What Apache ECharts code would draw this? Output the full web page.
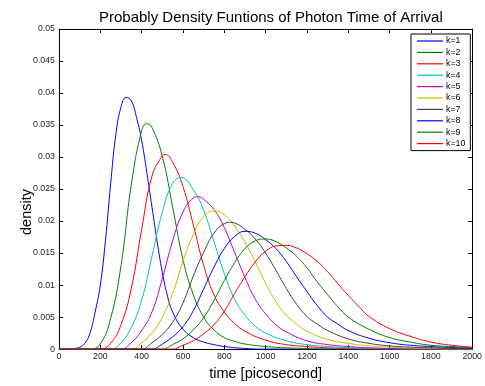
<!DOCTYPE html>
<html>
<head>
<meta charset="utf-8">
<script src="https://cdn.jsdelivr.net/npm/echarts@6/dist/echarts.min.js"></script>
<style>
html,body{margin:0;padding:0;background:#fff;}
#chart{width:485px;height:386px;}
</style>
</head>
<body>
<div id="chart"></div>
<script>
// ---- data (time in picoseconds, density) ----
var seriesNames = ['k=1','k=2','k=3','k=4','k=5','k=6','k=7','k=8','k=9','k=10'];
var xTicks = [0,200,400,600,800,1000,1200,1400,1600,1800,2000];
var yTicks = [0,0.005,0.01,0.015,0.02,0.025,0.03,0.035,0.04,0.045,0.05];

var k1 = [[0,0],[50,0],[75,0.0001],[100,0.0003],[125,0.0009],[150,0.0025],[175,0.0058],[200,0.0100],[225,0.0170],[250,0.0258],[275,0.0335],[300,0.0378],[325,0.0393],[350,0.0388],[375,0.0362],[400,0.0326],[425,0.0276],[450,0.0222],[475,0.0168],[500,0.0120],[525,0.0083],[550,0.0058],[600,0.0031],[650,0.0018],[700,0.0011],[750,0.0007],[800,0.0004],[900,0.0001],[1000,0],[2000,0]];
var k2 = [[0,0],[150,0],[200,0.0008],[250,0.0048],[300,0.0130],[350,0.0257],[400,0.0341],[425,0.0352],[450,0.0346],[500,0.0301],[550,0.0222],[600,0.0140],[650,0.0085],[700,0.0050],[750,0.0030],[800,0.0018],[850,0.0012],[900,0.0008],[1000,0.0004],[1100,0.0002],[1200,0.0001],[1300,0],[2000,0]];
var k3 = [[0,0],[200,0],[250,0.0009],[300,0.0038],[350,0.0095],[400,0.0187],[450,0.0270],[500,0.0302],[515,0.0304],[550,0.0292],[600,0.0254],[650,0.0194],[700,0.0131],[750,0.0085],[800,0.0058],[850,0.0040],[900,0.0028],[1000,0.0014],[1100,0.0007],[1200,0.0004],[1300,0.0002],[1400,0.0001],[1500,0],[2000,0]];
var k4 = [[0,0],[250,0],[300,0.0010],[350,0.0034],[400,0.0076],[450,0.0145],[500,0.0214],[550,0.0259],[590,0.0268],[650,0.0249],[700,0.0217],[750,0.0168],[800,0.0118],[850,0.0078],[900,0.0053],[950,0.0036],[1000,0.0025],[1100,0.0013],[1200,0.0007],[1300,0.0004],[1400,0.0002],[1500,0.0001],[1600,0],[2000,0]];
var k5 = [[0,0],[300,0],[350,0.0010],[400,0.0029],[450,0.0058],[500,0.0110],[550,0.0169],[600,0.0214],[650,0.0236],[675,0.0238],[700,0.0234],[750,0.0218],[800,0.0190],[850,0.0151],[900,0.0112],[950,0.0078],[1000,0.0055],[1050,0.0038],[1100,0.0027],[1200,0.0013],[1300,0.0007],[1400,0.0004],[1500,0.0002],[1600,0.0001],[1700,0],[2000,0]];
var k6 = [[0,0],[350,0],[400,0.0010],[450,0.0025],[500,0.0050],[550,0.0087],[600,0.0137],[650,0.0179],[700,0.0207],[750,0.0216],[800,0.0210],[850,0.0192],[900,0.0167],[950,0.0136],[1000,0.0103],[1050,0.0074],[1100,0.0053],[1150,0.0039],[1200,0.0028],[1300,0.0015],[1400,0.0009],[1500,0.0005],[1600,0.0003],[1700,0.00015],[1800,0.0001],[1900,0],[2000,0]];
var k7 = [[0,0],[400,0],[450,0.0010],[500,0.0023],[550,0.0042],[600,0.0072],[650,0.0114],[700,0.0151],[750,0.0181],[800,0.0196],[830,0.0198],[850,0.0197],[900,0.0187],[950,0.0172],[1000,0.0150],[1050,0.0123],[1100,0.0095],[1150,0.0070],[1200,0.0051],[1250,0.0039],[1300,0.0029],[1400,0.0016],[1500,0.0009],[1600,0.0005],[1700,0.0003],[1800,0.0002],[1900,0.0001],[2000,0.00005]];
var k8 = [[0,0],[450,0],[500,0.0008],[550,0.0019],[600,0.0035],[650,0.0060],[700,0.0094],[750,0.0128],[800,0.0157],[850,0.0176],[900,0.0184],[950,0.0181],[1000,0.0171],[1050,0.0157],[1100,0.0137],[1150,0.0113],[1200,0.0090],[1250,0.0068],[1300,0.0050],[1350,0.0039],[1400,0.0029],[1500,0.0017],[1600,0.0010],[1700,0.0006],[1800,0.0004],[1900,0.00025],[2000,0.00015]];
var k9 = [[0,0],[500,0],[550,0.0007],[600,0.0016],[650,0.0030],[700,0.0049],[750,0.0076],[800,0.0107],[850,0.0135],[900,0.0157],[950,0.0169],[1000,0.0172],[1050,0.0168],[1100,0.0158],[1150,0.0145],[1200,0.0127],[1250,0.0105],[1300,0.0085],[1350,0.0066],[1400,0.0050],[1500,0.0031],[1600,0.0018],[1700,0.0011],[1800,0.0006],[1900,0.0004],[2000,0.0002]];
var k10 = [[0,0],[550,0],[600,0.0006],[650,0.0013],[700,0.0024],[750,0.0038],[800,0.0059],[850,0.0087],[900,0.0113],[950,0.0136],[1000,0.0153],[1050,0.0161],[1100,0.0162],[1150,0.0158],[1200,0.0149],[1250,0.0137],[1300,0.0121],[1350,0.0102],[1400,0.0084],[1450,0.0067],[1500,0.0051],[1600,0.0032],[1700,0.0020],[1800,0.0011],[1900,0.0006],[2000,0.0003]];

var allData = [k1,k2,k3,k4,k5,k6,k7,k8,k9,k10];
var colors = ['#0000ff','#008000','#ff0000','#00bfbf','#bf00bf','#bfbf00','#404040','#0000ff','#008000','#ff0000'];

var FONT = 'Liberation Sans, Arial, Helvetica, sans-serif';
var chart = echarts.init(document.getElementById('chart'), null, {renderer:'canvas'});

var series = seriesNames.map(function(n,i){
  return {
    name: n, type: 'line', data: allData[i], symbol: 'none', smooth: 0.45,
    lineStyle: {color: colors[i], width: 1}, itemStyle: {color: colors[i]},
    emphasis: {disabled: true}, animation: false, clip: true
  };
});

function axisLine(){ return {show: true, onZero: false, lineStyle: {color: '#000', width: 1}}; }
function axisTick(){ return {show: true, inside: true, length: 4, lineStyle: {color: '#000', width: 1}}; }

chart.setOption({
  animation: false,
  backgroundColor: '#fff',
  color: colors,
  title: {
    text: 'Probably Density Funtions of Photon Time of Arrival',
    left: 94, top: 5,
    textStyle: {fontFamily: FONT, fontSize: 15, fontWeight: 'normal', color: '#000'}
  },
  grid: {left: 59, right: 10, top: 29, bottom: 30, containLabel: false},
  legend: {
    data: seriesNames, orient: 'vertical', left: 411, top: 34,
    icon: 'rect', itemWidth: 26, itemHeight: 1.2, itemGap: 1.4,
    padding: [2, 5, 2, 6],
    backgroundColor: '#fff', borderColor: '#000', borderWidth: 1,
    textStyle: {fontFamily: FONT, fontSize: 8.8, color: '#000', lineHeight: 10, padding: [0,0,0,-2]},
    selectedMode: false
  },
  graphic: [{
    type: 'text', left: 19, top: 189, rotation: Math.PI/2,
    style: {text: 'density', font: '14.5px ' + FONT, fill: '#000'},
    silent: true
  }],
  xAxis: [
    {
      type: 'value', min: xTicks[0], max: xTicks[xTicks.length-1], interval: 200, position: 'bottom',
      name: 'time [picosecond]', nameLocation: 'middle', nameGap: 13,
      nameTextStyle: {fontFamily: FONT, fontSize: 14.5, color: '#000'},
      axisLine: axisLine(), axisTick: axisTick(), splitLine: {show: false},
      axisLabel: {fontFamily: FONT, fontSize: 8.8, color: '#262626', margin: 3,
        formatter: function(v){ return String(v); }}
    },
    {
      type: 'value', min: xTicks[0], max: xTicks[xTicks.length-1], interval: 200, position: 'top',
      axisLine: axisLine(), axisTick: axisTick(), splitLine: {show: false},
      axisLabel: {show: false}
    }
  ],
  yAxis: [
    {
      type: 'value', min: yTicks[0], max: yTicks[yTicks.length-1], interval: 0.005, position: 'left',
      axisLine: axisLine(), axisTick: axisTick(), splitLine: {show: false},
      axisLabel: {fontFamily: FONT, fontSize: 8.8, color: '#262626', margin: 4,
        formatter: function(v){ return String(+v.toFixed(3)); }}
    },
    {
      type: 'value', min: yTicks[0], max: yTicks[yTicks.length-1], interval: 0.005, position: 'right',
      axisLine: axisLine(), axisTick: axisTick(), splitLine: {show: false},
      axisLabel: {show: false}
    }
  ],
  series: series
});
</script>
</body>
</html>
